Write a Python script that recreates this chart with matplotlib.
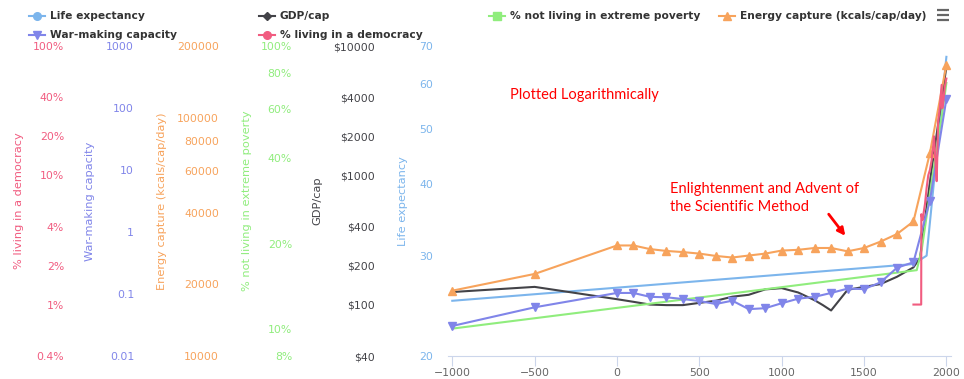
import matplotlib
matplotlib.use('Agg')
import matplotlib.pyplot as plt
from matplotlib.ticker import FixedLocator, FixedFormatter, NullLocator

# ---- data ----
energy_years = [-1000, -500, 0, 100, 200, 300, 400, 500, 600, 700, 800, 900,
                1000, 1100, 1200, 1300, 1400, 1500, 1600, 1700, 1800, 1900, 2000]
energy = [18800, 22100, 29100, 29100, 28100, 27600, 27300, 26900, 26300, 25900,
          26400, 26900, 27700, 27900, 28400, 28400, 27500, 28400, 30200, 32500,
          36700, 71100, 167000]

war_years = energy_years
war = [0.0305, 0.061, 0.104, 0.104, 0.090, 0.0885, 0.083, 0.077, 0.069, 0.078,
       0.057, 0.059, 0.071, 0.084, 0.090, 0.104, 0.122, 0.120, 0.154, 0.265,
       0.325, 3.2, 140]

gdp_years = [-1000, -500, 0, 100, 200, 300, 400, 500, 600, 700, 800, 900, 1000,
             1100, 1200, 1250, 1300, 1400, 1500, 1600, 1700, 1800, 1840, 1900,
             1950, 2000]
gdp = [125, 137, 110, 105, 100, 99, 99, 103, 107, 115, 119, 131, 134, 124, 108,
       99, 90, 130, 137, 144, 164, 194, 230, 888, 2500, 6900]

life_years = [-1000, 1800, 1880, 1950, 2000]
life = [25, 29, 30, 48, 67]

poverty_years = [-1000, 1820, 1850, 1900, 1950, 1970, 2000]
poverty = [10.0, 16.1, 19, 30, 47, 55, 74]

dem_years = [1800, 1847, 1848, 1855, 1870, 1880, 1890, 1900, 1910, 1920, 1925,
             1935, 1941, 1945, 1950, 1960, 1971, 1975, 1980, 1990, 2000]
democracy = [1, 1, 5, 4.5, 6, 8, 10, 11, 13, 17, 20, 12, 9, 14, 26, 33, 50, 33,
             36, 48, 56]

W, H = 964, 379
fig = plt.figure(figsize=(W / 100, H / 100), dpi=100)
rect = [448 / W, 23 / H, 503 / W, 310 / H]

ax = fig.add_axes(rect)
ax.set_xlim(-1026, 2028)
ax.set_yticks([])
for s in ['top', 'right', 'left']:
    ax.spines[s].set_visible(False)
ax.spines['bottom'].set_color('#ccd6eb')
ax.set_xticks([-1000, -500, 0, 500, 1000, 1500, 2000])
ax.tick_params(axis='x', colors='#ccd6eb', length=7, labelcolor='#666666',
               labelsize=7.8, pad=2)

# one log axis per series: (name, xs, ys, colour, marker, ylim, ticks, labels, pad px, title x)
series = [
    ('Life expectancy', life_years, life, '#7cb5ec', 'o', (20, 70),
     [20, 30, 40, 50, 60, 70], ['20', '30', '40', '50', '60', '70'], 15, 403),
    ('GDP/cap', gdp_years, gdp, '#434348', 'D', (40, 10000),
     [40, 100, 200, 400, 1000, 2000, 4000, 10000],
     ['$40', '$100', '$200', '$400', '$1000', '$2000', '$4000', '$10000'], 73, 317),
    ('% not living in extreme poverty', poverty_years, poverty, '#90ed7d', 's', (8, 100),
     [8, 10, 20, 40, 60, 80, 100], ['8%', '10%', '20%', '40%', '60%', '80%', '100%'], 156, 247),
    ('Energy capture (kcals/cap/day)', energy_years, energy, '#f7a35c', '^', (10000, 200000),
     [10000, 20000, 40000, 60000, 80000, 100000, 200000],
     ['10000', '20000', '40000', '60000', '80000', '100000', '200000'], 229, 162),
    ('War-making capacity', war_years, war, '#8085e9', 'v', (0.01, 1000),
     [0.01, 0.1, 1, 10, 100, 1000], ['0.01', '0.1', '1', '10', '100', '1000'], 314, 90),
    ('% living in a democracy', dem_years, democracy, '#f15c80', 'o', (0.4, 100),
     [0.4, 1, 2, 4, 10, 20, 40, 100],
     ['0.4%', '1%', '2%', '4%', '10%', '20%', '40%', '100%'], 384, 19),
]

for name, xs, ys, col, mk, lim, ticks, labels, pad, tx in series:
    a = fig.add_axes(rect, sharex=ax)
    a.patch.set_visible(False)
    for s in a.spines.values():
        s.set_visible(False)
    a.set_yscale('log')
    a.set_ylim(*lim)
    a.yaxis.set_major_locator(FixedLocator(ticks))
    a.yaxis.set_major_formatter(FixedFormatter(labels))
    a.yaxis.set_minor_locator(NullLocator())
    a.tick_params(axis='y', length=0, pad=pad * 0.72, labelcolor=col, labelsize=7.8)
    a.tick_params(axis='x', bottom=False, labelbottom=False)
    if mk in ('^', 'v'):
        a.plot(xs, ys, color=col, lw=1.5, marker=mk, markersize=5.6, clip_on=False)
    else:
        a.plot(xs, ys, color=col, lw=1.5, clip_on=False)
    fig.text(tx / W, 1 - 201 / H, name, rotation=90, ha='center', va='center',
             color=col, fontsize=8.2)

# overlay in pixel coordinates for legend and notes
ov = fig.add_axes([0, 0, 1, 1])
ov.set_xlim(0, W)
ov.set_ylim(H, 0)
ov.axis('off')

legend_pos = [(37, 16), (267, 16), (497, 16), (727, 16), (37, 34.5), (267, 34.5)]
for (name, xs, ys, col, mk, *_), (lx, ly) in zip(series, legend_pos):
    ov.plot([lx - 8, lx + 8], [ly, ly], color=col, lw=1.5)
    ov.plot([lx], [ly], marker=mk, color=col, markersize=5.5 if mk != 'D' else 4.2)
    ov.text(lx + 13, ly, name, va='center', ha='left', fontsize=7.7,
            fontweight='bold', color='#333333')

# menu icon
for yy in (9.5, 14.5, 19.5):
    ov.plot([937, 949], [yy, yy], color='#666666', lw=1.6, solid_capstyle='butt')

ov.text(510, 95, 'Plotted Logarithmically', color='red', fontsize=10.5,
        family='Lato', va='center', ha='left')
ov.text(670, 198, 'Enlightenment and Advent of\nthe Scientific Method', color='red',
        fontsize=10.5, family='Lato', va='center', ha='left', linespacing=1.3)
ov.annotate('', xy=(847, 238), xytext=(827, 212),
            arrowprops=dict(arrowstyle='-|>', color='red', lw=2.0, mutation_scale=11))

fig.savefig('out.png', dpi=100)
